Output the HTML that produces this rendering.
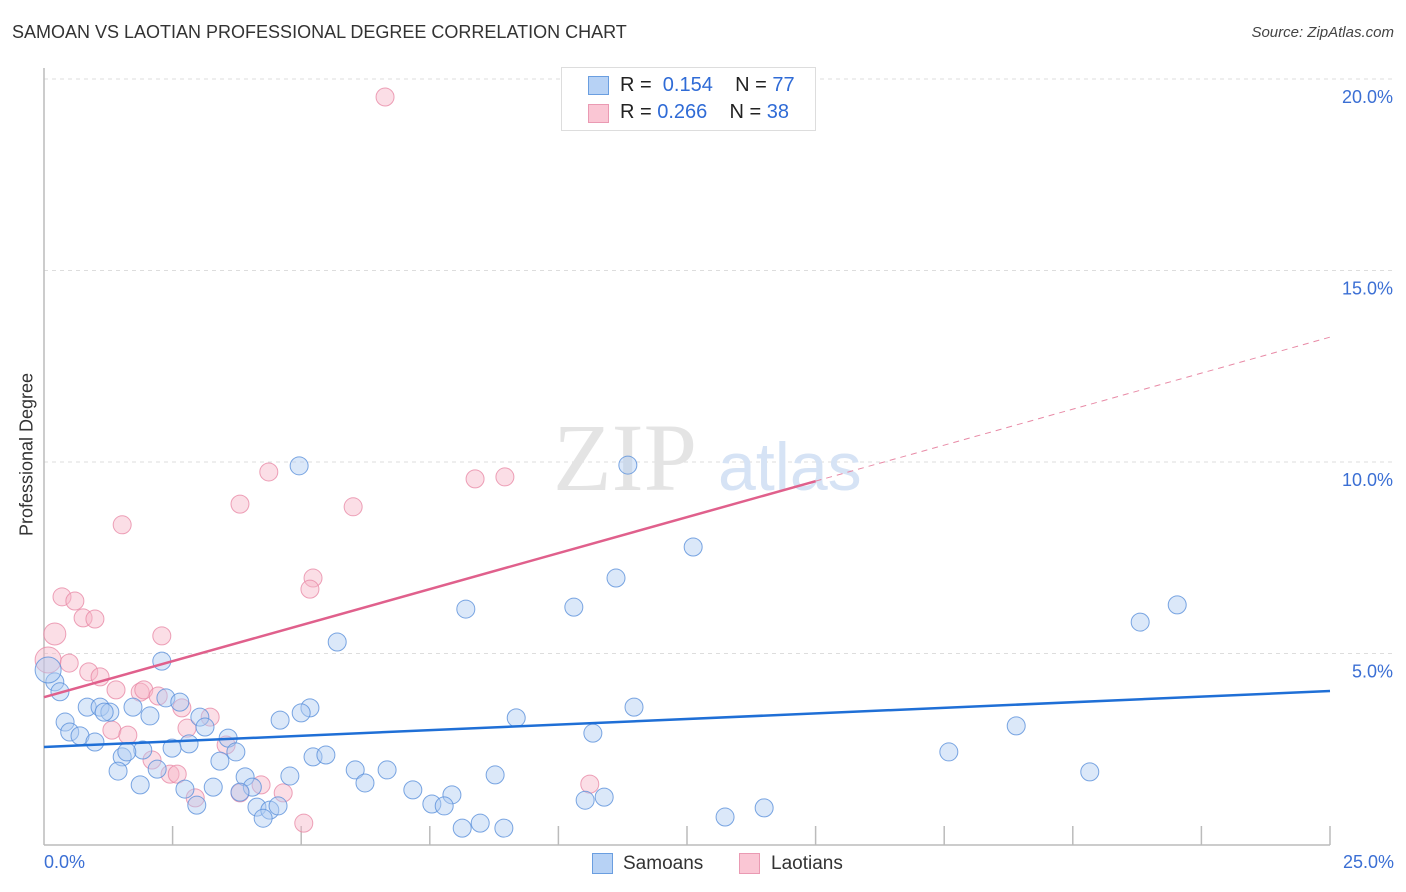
<!DOCTYPE html>
<html><head><meta charset="utf-8"><style>
body{margin:0;background:#fff;font-family:"Liberation Sans",sans-serif;}
#c{position:relative;width:1406px;height:892px;overflow:hidden;}
.t{position:absolute;white-space:nowrap;}
</style></head><body>
<div id="c">
<div class="t" style="left:12px;top:22px;font-size:18px;color:#333;">SAMOAN VS LAOTIAN PROFESSIONAL DEGREE CORRELATION CHART</div>
<div class="t" style="right:12px;top:24px;font-size:15px;color:#444;font-style:italic;">Source: ZipAtlas.com</div>
<svg id="svg" width="1406" height="892" style="position:absolute;left:0;top:0"></svg>
</div>
<script>
const blueX=[4.96,11.35,12.62,11.12,8.20,10.30,22.03,21.31,5.70,2.29,0.21,0.31,0.08,2.37,2.64,0.84,1.09,1.28,1.17,1.73,2.06,5.17,5.00,4.59,9.18,11.47,0.41,0.50,0.70,0.99,3.03,3.13,3.58,3.73,2.82,2.49,1.92,1.52,1.61,10.67,18.90,17.59,20.33,3.42,5.23,5.48,6.05,6.67,8.77,6.24,4.78,3.91,1.44,2.20,1.87,2.74,3.29,4.05,3.81,7.17,7.93,7.54,7.78,10.89,10.52,14.00,13.24,2.97,4.14,4.39,4.55,4.26,8.13,8.48,8.94];
const blueY=[9.90,9.92,7.78,6.97,6.16,6.21,6.27,5.82,5.30,4.80,4.26,4.00,4.57,3.84,3.73,3.60,3.60,3.47,3.47,3.60,3.37,3.58,3.45,3.26,3.32,3.60,3.21,2.95,2.85,2.69,3.34,3.08,2.79,2.43,2.64,2.53,2.48,2.30,2.43,2.92,3.11,2.43,1.91,2.19,2.30,2.35,1.96,1.96,1.83,1.62,1.80,1.78,1.93,1.98,1.57,1.46,1.51,1.51,1.38,1.44,1.31,1.07,1.02,1.25,1.17,0.97,0.73,1.04,0.99,0.91,1.02,0.70,0.44,0.57,0.44];
const pinkX=[6.63,4.37,8.38,8.96,3.81,6.01,1.52,5.23,5.17,0.35,0.60,0.76,0.99,0.21,2.29,0.08,0.49,0.87,1.09,1.40,1.87,1.94,2.22,2.68,3.23,2.78,1.32,1.63,3.54,2.10,2.45,2.59,2.94,3.81,4.22,4.65,10.61,5.05];
const pinkY=[19.53,9.74,9.56,9.61,8.90,8.83,8.36,6.97,6.68,6.48,6.37,5.93,5.90,5.51,5.46,4.83,4.75,4.52,4.39,4.05,3.99,4.05,3.89,3.58,3.34,3.05,3.00,2.87,2.61,2.22,1.85,1.85,1.23,1.36,1.57,1.36,1.59,0.57];
const blueTrend=[[0,2.56],[25,4.02]];
const pinkTrend=[[0,3.86],[15,9.50]];
const pinkTrendExt=[[15,9.50],[25,13.26]];
const yTicks=[5,10,15,20];
const NS='http://www.w3.org/2000/svg';
const svg=document.getElementById('svg');
const X=v=>44+v/25*1286, Y=v=>845-v/20*766;
function el(tag,attrs,parent){const e=document.createElementNS(NS,tag);for(const k in attrs)e.setAttribute(k,attrs[k]);(parent||svg).appendChild(e);return e;}
for(const t of yTicks){
 const g=el('line',{x1:44,x2:1394,y1:Y(t),y2:Y(t),stroke:'#ddd','stroke-dasharray':'4,4'});
 
 
 const tx=el('text',{x:1393,y:Y(t)+24,'text-anchor':'end','font-size':18,fill:'#3b6fd4','font-family':'Liberation Sans'});
 tx.textContent=t.toFixed(1)+'%';
 
 
}
el('line',{x1:44,x2:44,y1:68,y2:845,stroke:'#bbb','stroke-width':1.5});
el('line',{x1:44,x2:1330,y1:845,y2:845,stroke:'#bbb','stroke-width':1.5});
for(let i=1;i<=10;i++){const tk=el('line',{x1:X(i*2.5),x2:X(i*2.5),y1:826,y2:845,stroke:'#bbb','stroke-width':1.5});
 
 }
const wm=el('text',{x:553,y:490,'font-size':96,fill:'#e4e4e4','font-family':'Liberation Serif'});wm.textContent='ZIP';


const wm2=el('text',{x:718,y:490,'font-size':68,fill:'#d6e3f5','font-family':'Liberation Sans'});wm2.textContent='atlas';


function pts(xs,ys,fill,stroke,name){for(let i=0;i<xs.length;i++){const big=(xs[i]<0.1)?13:((xs[i]<0.25&&ys[i]>5)?11:9);
 const c=el('circle',{cx:X(xs[i]),cy:Y(ys[i]),r:big,fill:fill,stroke:stroke,'stroke-width':1,'fill-opacity':0.45,'stroke-opacity':0.8});
 
 }}
pts(pinkX,pinkY,'#f7b6c8','#e88aa6','laotian-point');
pts(blueX,blueY,'#b0cdf2','#5a90db','samoan-point');
const bl=el('line',{x1:X(blueTrend[0][0]),y1:Y(blueTrend[0][1]),x2:X(blueTrend[1][0]),y2:Y(blueTrend[1][1]),stroke:'#1f6fd6','stroke-width':2.5});


const pl=el('line',{x1:X(pinkTrend[0][0]),y1:Y(pinkTrend[0][1]),x2:X(pinkTrend[1][0]),y2:Y(pinkTrend[1][1]),stroke:'#e0608c','stroke-width':2.5});


const pd=el('line',{x1:X(pinkTrendExt[0][0]),y1:Y(pinkTrendExt[0][1]),x2:X(pinkTrendExt[1][0]),y2:Y(pinkTrendExt[1][1]),stroke:'#e88aa6','stroke-width':1,'stroke-dasharray':'6,5'});


</script>
<div class="t" style="left:44px;top:852px;font-size:18px;color:#3b6fd4">0.0%</div>
<div class="t" style="right:12px;top:852px;font-size:18px;color:#3b6fd4">25.0%</div>
<div class="t" style="left:-63px;top:444px;width:180px;text-align:center;transform:rotate(-90deg);font-size:18px;color:#333;">Professional Degree</div>
<div class="t" style="left:561px;top:67px;width:253px;height:62px;border:1px solid #ddd;background:#fff;font-size:20px;">
 <div style="position:absolute;left:26px;top:8px;width:19px;height:17px;background:#b7d2f5;border:1px solid #6a9ee0"></div>
 <div style="position:absolute;left:58px;top:6px;color:#222">R = <span style="color:#2f6bd6">&nbsp;0.154</span>&nbsp;&nbsp;&nbsp; N = <span style="color:#2f6bd6">77</span></div>
 <div style="position:absolute;left:26px;top:36px;width:19px;height:17px;background:#fac6d4;border:1px solid #ea9ab3"></div>
 <div style="position:absolute;left:58px;top:33px;color:#222">R = <span style="color:#2f6bd6">0.266</span>&nbsp;&nbsp;&nbsp; N = <span style="color:#2f6bd6">38</span></div>
</div>
<div class="t" style="left:592px;top:853px;width:19px;height:19px;background:#b7d2f5;border:1px solid #6a9ee0"></div>
<div class="t" style="left:623px;top:853px;font-size:19px;color:#333">Samoans</div>
<div class="t" style="left:739px;top:853px;width:19px;height:19px;background:#fac6d4;border:1px solid #ea9ab3"></div>
<div class="t" style="left:771px;top:853px;font-size:19px;color:#333">Laotians</div>
</body></html>
